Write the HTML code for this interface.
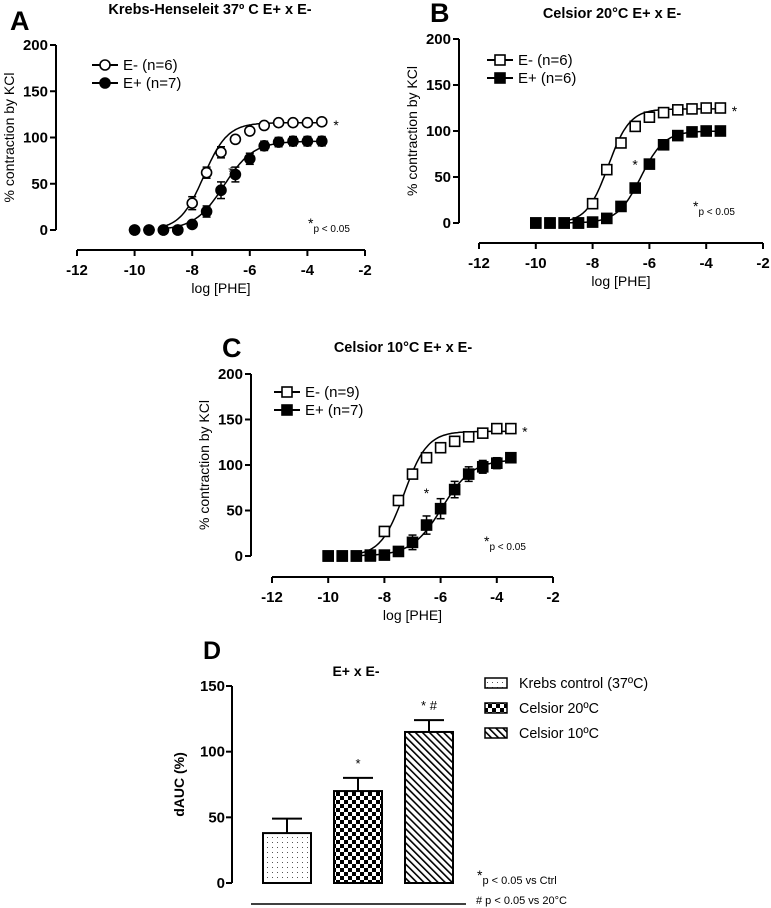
<!DOCTYPE html>
<html><head><meta charset="utf-8"><style>
body{margin:0;background:#fff}
svg{display:block;font-family:"Liberation Sans",Arial,sans-serif}
</style></head><body>
<svg id="fig" width="771" height="908" viewBox="0 0 771 908" xmlns="http://www.w3.org/2000/svg">
<defs>
<pattern id="pDots" width="5" height="5" patternUnits="userSpaceOnUse"><rect width="5" height="5" fill="#fff"/><rect x="2" y="2" width="1" height="1" fill="#555"/></pattern>
<pattern id="pCheck" width="8" height="8" patternUnits="userSpaceOnUse"><rect width="8" height="8" fill="#fff"/><rect width="4" height="4" fill="#000"/><rect x="4" y="4" width="4" height="4" fill="#000"/></pattern>
<pattern id="pDiag" width="5" height="5" patternUnits="userSpaceOnUse" patternTransform="rotate(-45)"><rect width="5" height="5" fill="#fff"/><rect width="1.6" height="5" fill="#000"/></pattern>
</defs>
<g id="root"></g>
</svg>
<script>
// ---- data: log [PHE] concentrations ----
const logConc = [-10,-9.5,-9,-8.5,-8,-7.5,-7,-6.5,-6,-5.5,-5,-4.5,-4,-3.5];
const xTicks = [-12,-10,-8,-6,-4,-2];
const yTicksCurve = [0,50,100,150,200];
// Panel A
const aEminus = [0,0,0,0,29,62,84,98,107,113,116,116,116,117];
const aEminusErr = [0,0,0,0,7,6,6,4,3,2,2,2,2,2];
const aEplus = [0,0,0,0,6,20,43,60,77,91,95,96,96,96];
const aEplusErr = [0,0,0,0,2,6,9,8,6,5,5,5,5,5];
const aFitTop = [116,96];
const aFitEC50 = [-7.6,-6.9];
// Panel B
const bEminus = [0,0,0,0,21,58,87,105,115,120,123,124,125,125];
const bEminusErr = [0,0,0,0,3,4,3,3,2,2,2,2,2,2];
const bEplus = [0,0,0,0,1,5,18,38,64,85,95,99,100,100];
const bEplusErr = [0,0,0,0,1,2,3,3,5,3,3,2,2,2];
const bFitTop = [124,100];
const bFitEC50 = [-7.45,-6.3];
// Panel C
const cEminus = [0,0,0,0,27,61,90,108,119,126,131,135,140,140];
const cEminusErr = [0,0,0,0,4,5,4,3,3,3,3,3,3,3];
const cEplus = [0,0,0,1,1,5,15,34,52,73,90,98,102,108];
const cEplusErr = [0,0,0,0,1,2,8,10,11,9,8,7,6,5];
const cFitTop = [137,106];
const cFitEC50 = [-7.3,-5.95];
// Panel D bars
const barNames = ["Krebs control (37ºC)","Celsior 20ºC","Celsior 10ºC"];
const barValues = [38,70,115];
const barErrors = [11,10,9];
const barMarks = ["","*","*  #"];
const yTicksBar = [0,50,100,150];

const NS="http://www.w3.org/2000/svg";
const root=document.getElementById('root');
function el(tag,attrs,parent,text){const e=document.createElementNS(NS,tag);for(const k in attrs)e.setAttribute(k,attrs[k]);if(text!==undefined)e.textContent=text;(parent||root).appendChild(e);return e;}

function curvePanel(cfg){
  const g=el('g',{});
  
  
  const X=v=>cfg.x0+(v-(-12))*(cfg.x1-cfg.x0)/10;
  const Y=v=>cfg.yb+(cfg.yt-cfg.yb)*v/200;
  const L=el('text',{x:cfg.letterX,y:cfg.letterY,'font-size':27,'font-weight':'bold'},g,cfg.letter);
  
  
  const T=el('text',{x:cfg.titleX,y:cfg.titleY,'font-size':14.5,'font-weight':'bold','text-anchor':'middle'},g,cfg.title);
  
  
  const ya=el('g',{},g);
  
  
  el('line',{x1:cfg.ax,y1:Y(200),x2:cfg.ax,y2:Y(0),stroke:'#000','stroke-width':2},ya);
  yTicksCurve.forEach(t=>{
    el('line',{x1:cfg.ax-6,y1:Y(t),x2:cfg.ax,y2:Y(t),stroke:'#000','stroke-width':2},ya);
    el('text',{x:cfg.ax-8,y:Y(t)+5,'font-size':15,'font-weight':'bold','text-anchor':'end'},ya,String(t));
  });
  const yl=el('text',{x:0,y:0,'font-size':14,'text-anchor':'middle',transform:`translate(${cfg.ax-42},${Y(100)}) rotate(-90)`},ya,'% contraction by KCl');
  
  
  const xa=el('g',{},g);
  
  
  el('line',{x1:X(-12),y1:cfg.xay,x2:X(-2),y2:cfg.xay,stroke:'#000','stroke-width':2},xa);
  xTicks.forEach(t=>{
    el('line',{x1:X(t),y1:cfg.xay,x2:X(t),y2:cfg.xay+6,stroke:'#000','stroke-width':2},xa);
    el('text',{x:X(t),y:cfg.xay+25,'font-size':15,'font-weight':'bold','text-anchor':'middle'},xa,String(t));
  });
  const xl=el('text',{x:X(-7),y:cfg.xay+43,'font-size':14,'text-anchor':'middle'},xa,'log [PHE]');
  
  
  [0,1].forEach(i=>{
    let d='';
    for(let v=-8.9;v<=-3.5;v+=0.05){const y=cfg.top[i]/(1+Math.pow(10,(cfg.ec[i]-v)*cfg.hill[i]));d+=(d?'L':'M')+X(v).toFixed(1)+','+Y(y).toFixed(1);}
    const p=el('path',{d:d,fill:'none',stroke:'#000','stroke-width':1.5},g);
    
    
  });
  const series=[{v:cfg.em,e:cfg.eme,fill:'#fff',nm:'e-minus'},{v:cfg.ep,e:cfg.epe,fill:'#000',nm:'e-plus'}];
  series.forEach(s=>{
    const sg=el('g',{},g);
    
    
    logConc.forEach((c,k)=>{
      const cx=X(c),cy=Y(s.v[k]);
      if(s.e[k]>0){
        const e1=Y(s.v[k]+s.e[k]),e2=Y(s.v[k]-s.e[k]);
        el('line',{x1:cx,y1:e1,x2:cx,y2:e2,stroke:'#000','stroke-width':1.5},sg);
        el('line',{x1:cx-4,y1:e1,x2:cx+4,y2:e1,stroke:'#000','stroke-width':1.5},sg);
        el('line',{x1:cx-4,y1:e2,x2:cx+4,y2:e2,stroke:'#000','stroke-width':1.5},sg);
      }
      let m;
      if(cfg.shape==='circle') m=el('circle',{cx:cx,cy:cy,r:5,fill:s.fill,stroke:'#000','stroke-width':1.6},sg);
      else m=el('rect',{x:cx-5,y:cy-5,width:10,height:10,fill:s.fill,stroke:'#000','stroke-width':1.6},sg);
      
      
    });
  });
  const lg=el('g',{},g);
  
  
  cfg.legend.forEach((txt,i)=>{
    const ly=cfg.legY+i*18, lx=cfg.legX;
    el('line',{x1:lx-13,y1:ly,x2:lx+13,y2:ly,stroke:'#000','stroke-width':2},lg);
    const fill=i?'#000':'#fff';
    if(cfg.shape==='circle') el('circle',{cx:lx,cy:ly,r:5,fill:fill,stroke:'#000','stroke-width':1.6},lg);
    else el('rect',{x:lx-5,y:ly-5,width:10,height:10,fill:fill,stroke:'#000','stroke-width':1.6},lg);
    const t=el('text',{x:lx+18,y:ly+5,'font-size':15},lg,txt);
    
    
  });
  el('text',{x:X(cfg.star1[0]),y:Y(cfg.star1[1]),'font-size':14},g,'*');
  el('text',{x:X(-3.1),y:Y(cfg.em[13])+8,'font-size':14},g,'*');
  const pn=el('text',{x:cfg.pX,y:cfg.pY,'font-size':10},g);
  el('tspan',{'font-size':14},pn,'*');
  el('tspan',{dy:4},pn,'p < 0.05');
  
  
}

curvePanel({name:'panel-a',letter:'A',letterX:10,letterY:30,title:'Krebs-Henseleit  37º C E+ x E-',titleX:210,titleY:14,
  ax:56,yt:45,yb:230,xay:250,x0:77,x1:365,shape:'circle',em:aEminus,eme:aEminusErr,ep:aEplus,epe:aEplusErr,
  top:aFitTop,ec:aFitEC50,hill:[1.05,0.85],legend:['E- (n=6)','E+ (n=7)'],legX:105,legY:65,star1:[-6.75,58],pX:308,pY:228});
curvePanel({name:'panel-b',letter:'B',letterX:430,letterY:22,title:'Celsior 20°C E+ x E-',titleX:612,titleY:18,
  ax:459,yt:39,yb:223,xay:243,x0:479,x1:763,shape:'square',em:bEminus,eme:bEminusErr,ep:bEplus,epe:bEplusErr,
  top:bFitTop,ec:bFitEC50,hill:[1.15,1.05],legend:['E- (n=6)','E+ (n=6)'],legX:500,legY:60,star1:[-6.6,58],pX:693,pY:211});
curvePanel({name:'panel-c',letter:'C',letterX:222,letterY:357,title:'Celsior 10°C E+ x E-',titleX:403,titleY:352,
  ax:251,yt:374,yb:556,xay:577,x0:272,x1:553,shape:'square',em:cEminus,eme:cEminusErr,ep:cEplus,epe:cEplusErr,
  top:cFitTop,ec:cFitEC50,hill:[1.05,0.8],legend:['E- (n=9)','E+ (n=7)'],legX:287,legY:392,star1:[-6.6,64],pX:484,pY:546});

(function(){
  const g=el('g',{});
  
  
  const ax=232, yb=883, yt=686;
  const Y=v=>yb+(yt-yb)*v/150;
  const L=el('text',{x:203,y:659,'font-size':25,'font-weight':'bold'},g,'D');
  
  
  const T=el('text',{x:356,y:676,'font-size':14,'font-weight':'bold','text-anchor':'middle'},g,'E+ x E-');
  
  
  const ya=el('g',{},g);
  
  
  el('line',{x1:ax,y1:Y(150),x2:ax,y2:Y(0),stroke:'#000','stroke-width':2},ya);
  yTicksBar.forEach(t=>{
    el('line',{x1:ax-6,y1:Y(t),x2:ax,y2:Y(t),stroke:'#000','stroke-width':2},ya);
    el('text',{x:ax-7,y:Y(t)+5,'font-size':15,'font-weight':'bold','text-anchor':'end'},ya,String(t));
  });
  const yl=el('text',{x:0,y:0,'font-size':14,'font-weight':'bold','text-anchor':'middle',transform:`translate(${ax-48},${Y(75)}) rotate(-90)`},ya,'dAUC (%)');
  
  
  const fills=['url(#pDots)','url(#pCheck)','url(#pDiag)'];
  const bw=48, gap=71, bx0=263;
  barValues.forEach((v,i)=>{
    const x=bx0+i*gap, cx=x+bw/2;
    const top=Y(v+barErrors[i]);
    el('line',{x1:cx,y1:Y(v),x2:cx,y2:top,stroke:'#000','stroke-width':2},g);
    el('line',{x1:cx-15,y1:top,x2:cx+15,y2:top,stroke:'#000','stroke-width':2},g);
    const r=el('rect',{x:x,y:Y(v),width:bw,height:Y(0)-Y(v),fill:fills[i],stroke:'#000','stroke-width':2},g);
    
    
    if(barMarks[i]) el('text',{x:cx,y:top-10,'font-size':13,'text-anchor':'middle','xml:space':'preserve'},g,barMarks[i]);
  });
  const lg=el('g',{},g);
  
  
  barNames.forEach((n,i)=>{
    const ly=683+i*25;
    el('rect',{x:485,y:ly-5,width:22,height:10,fill:fills[i],stroke:'#000','stroke-width':1.5},lg);
    const t=el('text',{x:519,y:ly+5,'font-size':14.3},lg,n);
    
    
  });
  el('line',{x1:251,y1:904,x2:466,y2:904,stroke:'#000','stroke-width':1.5},g);
  const n1=el('text',{x:477,y:880,'font-size':11},g);
  el('tspan',{'font-size':14},n1,'*');
  el('tspan',{dy:4},n1,'p < 0.05 vs Ctrl');
  
  
  const n2=el('text',{x:476,y:904,'font-size':11},g,'# p < 0.05 vs 20°C');
  
  
})();
</script>
</body></html>
